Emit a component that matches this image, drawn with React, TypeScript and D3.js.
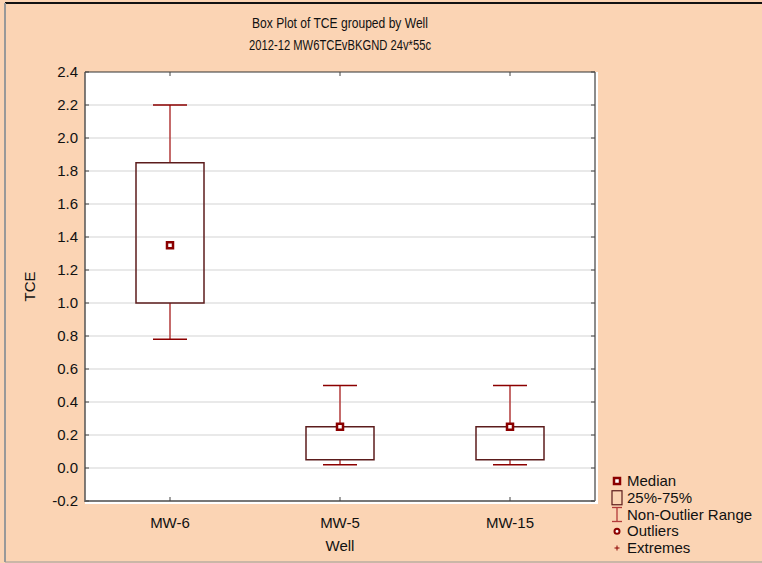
import React from "react";
import * as d3 from "d3";

// values
const categories = ["MW-6", "MW-5", "MW-15"];
const medians = [1.35, 0.25, 0.25];
const q1 = [1.0, 0.05, 0.05];
const q3 = [1.85, 0.25, 0.25];
const whiskerLow = [0.78, 0.02, 0.02];
const whiskerHigh = [2.2, 0.5, 0.5];
const yTickValues = [-0.2, 0, 0.2, 0.4, 0.6, 0.8, 1.0, 1.2, 1.4, 1.6, 1.8, 2.0, 2.2, 2.4];
const legendLabels = ["Median", "25%-75%", "Non-Outlier Range", "Outliers", "Extremes"];

const W = 762, H = 563;
const plot = { left: 85, top: 72, right: 595, bottom: 501 };
const bg = "#fbd4b4";
const darkRed = "#8b0000";
const whiskerRed = "#b23a3a";
const boxStroke = "#5c1c1c";
const sans = "'Liberation Sans', Arial, sans-serif";

const fmt = (v: number) => d3.format(".1f")(v).replace("\u2212", "-");

export default function App() {
  const x = d3.scaleBand().domain(categories).range([plot.left, plot.right]);
  const y = d3.scaleLinear().domain([-0.2, 2.4]).range([plot.bottom, plot.top]);
  const boxW = 68, capW = 34;
  const cx = (c: string) => (x(c) as number) + x.bandwidth() / 2;

  const legendY = d3.scaleLinear().domain([0, 4]).range([481, 548]);

  return (
    <svg width={W} height={H} style={{ position: "absolute", left: 0, top: 0 }}
      fontFamily={sans}>
      <rect x={0} y={0} width={W} height={H} fill={bg} />
      {/* outer frame */}
      <line x1={5} x2={W} y1={3} y2={3} stroke="#111" strokeWidth={2} />
      <line x1={5} x2={5} y1={3} y2={562} stroke="#999" strokeWidth={2} />
      <line x1={5} x2={W} y1={562} y2={562} stroke="#999" strokeWidth={1} />

      {/* titles, squeezed a little to look like a narrow face */}
      <text x={340} y={28} fontSize={14} fill="#111" textAnchor="middle"
        textLength={176} lengthAdjust="spacingAndGlyphs">
        Box Plot of TCE grouped by  Well
      </text>
      <text x={340} y={50} fontSize={14} fill="#111" textAnchor="middle"
        textLength={182} lengthAdjust="spacingAndGlyphs">
        2012-12 MW6TCEvBKGND 24v*55c
      </text>

      {/* plot area */}
      <rect x={plot.left} y={plot.top} width={plot.right - plot.left + 3}
        height={plot.bottom - plot.top + 3} fill="#fff" />
      {yTickValues.slice(1, -1).map((v) => (
        <line key={"g" + v} x1={plot.left} x2={plot.right} y1={y(v)} y2={y(v)}
          stroke="#e2e2e2" strokeWidth={1.5} />
      ))}

      {/* boxes */}
      {categories.map((c, i) => (
        <g key={c}>
          <line x1={cx(c)} x2={cx(c)} y1={y(whiskerHigh[i])} y2={y(q3[i])}
            stroke={whiskerRed} strokeWidth={1.5} />
          <line x1={cx(c)} x2={cx(c)} y1={y(q1[i])} y2={y(whiskerLow[i])}
            stroke={whiskerRed} strokeWidth={1.5} />
          <line x1={cx(c) - capW / 2} x2={cx(c) + capW / 2} y1={y(whiskerHigh[i])} y2={y(whiskerHigh[i])}
            stroke={darkRed} strokeWidth={1.5} />
          <line x1={cx(c) - capW / 2} x2={cx(c) + capW / 2} y1={y(whiskerLow[i])} y2={y(whiskerLow[i])}
            stroke={darkRed} strokeWidth={1.5} />
          <rect x={cx(c) - boxW / 2} y={y(q3[i])} width={boxW} height={y(q1[i]) - y(q3[i])}
            fill="none" stroke={boxStroke} strokeWidth={1.5} />
          <rect x={cx(c) - 3} y={y(medians[i]) - 3} width={6} height={6}
            fill="#fff" stroke={darkRed} strokeWidth={2.5} />
        </g>
      ))}

      {/* axes frame */}
      <line x1={plot.left} x2={plot.right} y1={plot.top} y2={plot.top} stroke="#333" strokeWidth={1.2} />
      <line x1={plot.right} x2={plot.right} y1={plot.top} y2={plot.bottom} stroke="#666" strokeWidth={1.5} />
      <line x1={plot.left} x2={plot.left} y1={plot.top} y2={plot.bottom + 1} stroke="#555" strokeWidth={1.5} />
      <line x1={plot.left} x2={plot.right} y1={plot.bottom} y2={plot.bottom} stroke="#777" strokeWidth={2} />

      {/* y ticks */}
      {yTickValues.map((v) => (
        <g key={"t" + v}>
          <line x1={plot.left} x2={plot.left + 4} y1={y(v)} y2={y(v)} stroke="#444" strokeWidth={1} />
          <line x1={plot.right - 4} x2={plot.right} y1={y(v)} y2={y(v)} stroke="#444" strokeWidth={1} />
          <text x={78} y={y(v) + 5} textAnchor="end" fontSize={15} fill="#111">
            {fmt(v)}
          </text>
        </g>
      ))}

      {/* x ticks */}
      {categories.map((c) => (
        <g key={"x" + c}>
          <line x1={cx(c)} x2={cx(c)} y1={plot.top} y2={plot.top + 4} stroke="#444" />
          <line x1={cx(c)} x2={cx(c)} y1={plot.bottom - 4} y2={plot.bottom} stroke="#444" />
          <text x={cx(c)} y={528} textAnchor="middle" fontSize={15} fill="#111">{c}</text>
        </g>
      ))}

      {/* axis titles */}
      <text x={340} y={551} textAnchor="middle" fontSize={15} fill="#111">Well</text>
      <text transform={`translate(35, ${(plot.top + plot.bottom) / 2}) rotate(-90)`}
        textAnchor="middle" fontSize={15} fill="#111">TCE</text>

      {/* legend */}
      {legendLabels.map((label, i) => {
        const ly = legendY(i);
        const mx = 617;
        return (
          <g key={label}>
            {i === 0 && (
              <rect x={mx - 3} y={ly - 3} width={6} height={6} fill="#fff" stroke={darkRed} strokeWidth={2.5} />
            )}
            {i === 1 && (
              <rect x={mx - 5} y={ly - 7} width={10} height={14} fill="none" stroke={boxStroke} strokeWidth={1.2} />
            )}
            {i === 2 && (
              <g stroke={whiskerRed} strokeWidth={1.3}>
                <line x1={mx - 5} x2={mx + 5} y1={ly - 7} y2={ly - 7} />
                <line x1={mx} x2={mx} y1={ly - 7} y2={ly + 7} />
                <line x1={mx - 5} x2={mx + 5} y1={ly + 7} y2={ly + 7} />
              </g>
            )}
            {i === 3 && (
              <circle cx={mx} cy={ly} r={2.5} fill="#fff" stroke={darkRed} strokeWidth={2} />
            )}
            {i === 4 && (
              <g stroke={darkRed} strokeWidth={1}>
                <line x1={mx - 2.5} x2={mx + 2.5} y1={ly} y2={ly} />
                <line x1={mx} x2={mx} y1={ly - 2.5} y2={ly + 2.5} />
              </g>
            )}
            <text x={627} y={ly + 5} fontSize={15} fill="#111">{label}</text>
          </g>
        );
      })}
    </svg>
  );
}
